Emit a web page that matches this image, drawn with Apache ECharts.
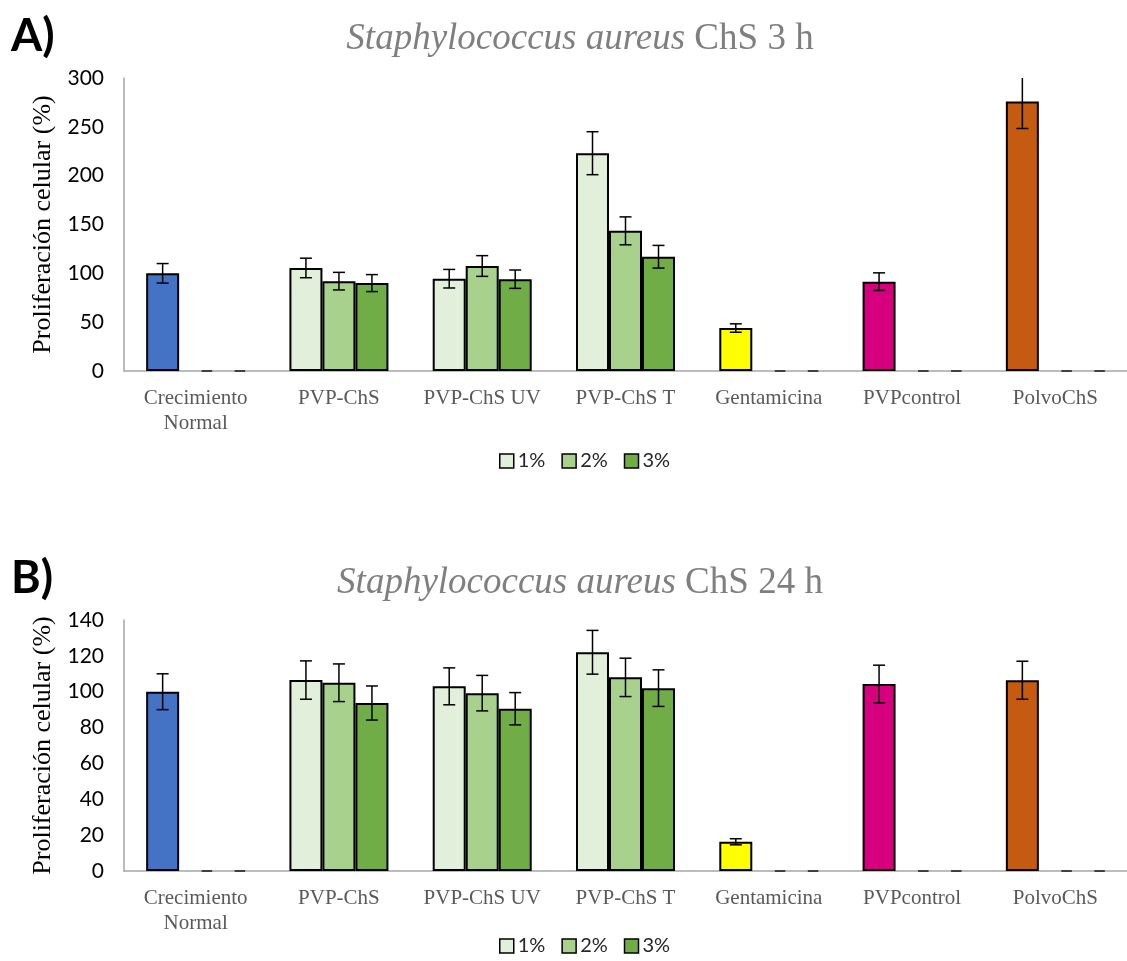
<!DOCTYPE html>
<html><head><meta charset="utf-8">
<script src="https://cdn.jsdelivr.net/npm/echarts@6/dist/echarts.min.js"></script>
<style>html,body{margin:0;padding:0;background:#fff}#c{width:1127px;height:961px}</style>
</head><body><div id="c"></div>
<script>
// ---- data ----
const categories = ['Crecimiento\nNormal','PVP-ChS','PVP-ChS UV','PVP-ChS T','Gentamicina','PVPcontrol','PolvoChS'];
const seriesNames = ['1%','2%','3%'];
const titleA = ['Staphylococcus aureus', 'ChS 3 h'];
const titleB = ['Staphylococcus aureus', 'ChS 24 h'];
const yAxisName = 'Proliferación celular (%)';

const a1 = [100, 105.5, 94.5, 223, 44, 91.5, 276];
const a2 = [0, 92, 107.5, 143.5, 0, 0, 0];
const a3 = [0, 90, 94, 117, 0, 0, 0];
const errA1 = [10, 10, 9.5, 22, 4.3, 9, 27.7];
const errA2 = [0, 9, 10.6, 14.3, 0, 0, 0];
const errA3 = [0, 8.7, 9.4, 11.6, 0, 0, 0];

const b1 = [100, 106.5, 103, 122, 16.3, 104.3, 106.4];
const b2 = [0, 105, 99.2, 108, 0, 0, 0];
const b3 = [0, 93.7, 90.5, 102, 0, 0, 0];
const errB1 = [10, 10.7, 10.3, 12.2, 1.7, 10.5, 10.6];
const errB2 = [0, 10.5, 9.9, 10.7, 0, 0, 0];
const errB3 = [0, 9.5, 9, 10.2, 0, 0, 0];

const yMaxA = 300, yStepA = 50;
const yMaxB = 140, yStepB = 20;

// ---- styles ----
const greens = ['#E2EFDA', '#A9D18E', '#70AD47'];
const specialColors = ['#4472C4', null, null, null, '#FFFF00', '#D6007F', '#C55A11'];
const BAR_W = 33;
const serif = '"Liberation Serif", "Times New Roman", serif';
const sans = 'Lato, "Noto Sans", sans-serif';

function barSeries(name, vals, si, axisIdx) {
  return {
    type: 'bar', name: name, xAxisIndex: axisIdx, yAxisIndex: axisIdx,
    barWidth: BAR_W, barGap: '0%',
    itemStyle: { color: greens[si], borderColor: '#000', borderWidth: 2 },
    data: vals.map((v, i) => {
      if (v === 0) {
        return { value: v, itemStyle: { borderColor: '#404040', borderWidth: 2, borderType: [12, 54], borderDashOffset: 43.5 } };
      }
      if (si === 0 && specialColors[i]) return { value: v, itemStyle: { color: specialColors[i] } };
      return v;
    }),
    z: 2
  };
}

function errSeries(vals, errs, axisIdx, yMax) {
  const data = [];
  vals.forEach((arr, si) => {
    arr.forEach((v, ci) => {
      if (errs[si][ci] > 0) data.push([ci, si, v, errs[si][ci]]);
    });
  });
  return {
    type: 'custom', xAxisIndex: axisIdx, yAxisIndex: axisIdx, clip: false, z: 5,
    silent: true,
    encode: { x: 0, y: 2 },
    data: data,
    renderItem: function (params, api) {
      const ci = api.value(0), si = api.value(1), v = api.value(2), e = api.value(3);
      const off = (si - 1) * BAR_W;
      const hiV = Math.min(v + e, yMax);
      const hi = api.coord([ci, hiV]);
      const lo = api.coord([ci, v - e]);
      const x = hi[0] + off;
      const cap = 6;
      const st = { stroke: '#000', lineWidth: 1.5 };
      const children = [
        { type: 'line', shape: { x1: x, y1: hi[1], x2: x, y2: lo[1] }, style: st },
        { type: 'line', shape: { x1: x - cap, y1: lo[1], x2: x + cap, y2: lo[1] }, style: st }
      ];
      if (v + e <= yMax) children.push({ type: 'line', shape: { x1: x - cap, y1: hi[1], x2: x + cap, y2: hi[1] }, style: st });
      return { type: 'group', children: children };
    }
  };
}

function xAxis(idx) {
  return {
    type: 'category', gridIndex: idx, data: categories,
    axisLine: { show: true, lineStyle: { color: '#A6A6A6', width: 1.5 } },
    axisTick: { show: false },
    axisLabel: { interval: 0, margin: 15, fontFamily: serif, fontSize: 21, color: '#595959', lineHeight: 25 }
  };
}
function yAxis(idx, max, step) {
  return {
    type: 'value', gridIndex: idx, min: 0, max: max, interval: step,
    name: yAxisName, nameLocation: 'middle', nameRotate: 90, nameGap: 64,
    nameTextStyle: { fontFamily: serif, fontSize: 26, color: '#000' },
    axisLine: { show: true, lineStyle: { color: '#A6A6A6', width: 1.5 } },
    axisTick: { show: false },
    splitLine: { show: false },
    axisLabel: { fontFamily: sans, fontSize: 21, color: '#000', margin: 20 }
  };
}
function titleGraphic(t, y) {
  return {
    type: 'text', x: 580, y: y,
    style: {
      text: '{i|' + t[0] + '}{n| ' + t[1] + '}',
      align: 'center', verticalAlign: 'middle',
      rich: {
        i: { fontStyle: 'italic', fontFamily: serif, fontSize: 37, fill: '#7F7F7F' },
        n: { fontFamily: serif, fontSize: 37, fill: '#7F7F7F' }
      }
    }
  };
}
function legend(top) {
  return {
    data: seriesNames, left: 494, top: top, icon: 'rect',
    itemWidth: 14, itemHeight: 14, itemGap: 16,
    itemStyle: { borderColor: '#000', borderWidth: 1.5 },
    textStyle: { fontFamily: sans, fontSize: 20, color: '#262626', padding: [0, 0, 0, -1] }
  };
}

const option = {
  animation: false,
  grid: [
    { left: 124, top: 78, width: 1015, height: 293 },
    { left: 124, top: 620, width: 1015, height: 251 }
  ],
  xAxis: [xAxis(0), xAxis(1)],
  yAxis: [yAxis(0, yMaxA, yStepA), yAxis(1, yMaxB, yStepB)],
  legend: [legend(446), legend(931)],
  graphic: [
    { type: 'text', x: 11, y: 14, style: { text: 'A)', fontFamily: sans, fontWeight: 'bold', fontSize: 45, fill: '#000' } },
    { type: 'text', x: 11, y: 556, style: { text: 'B)', fontFamily: sans, fontWeight: 'bold', fontSize: 45, fill: '#000' } },
    titleGraphic(titleA, 39),
    titleGraphic(titleB, 583)
  ],
  series: [
    barSeries(seriesNames[0], a1, 0, 0),
    barSeries(seriesNames[1], a2, 1, 0),
    barSeries(seriesNames[2], a3, 2, 0),
    errSeries([a1, a2, a3], [errA1, errA2, errA3], 0, yMaxA),
    barSeries(seriesNames[0], b1, 0, 1),
    barSeries(seriesNames[1], b2, 1, 1),
    barSeries(seriesNames[2], b3, 2, 1),
    errSeries([b1, b2, b3], [errB1, errB2, errB3], 1, yMaxB)
  ]
};
const chart = echarts.init(document.getElementById('c'), null, { renderer: 'canvas' });
chart.setOption(option);
</script>
</body></html>
